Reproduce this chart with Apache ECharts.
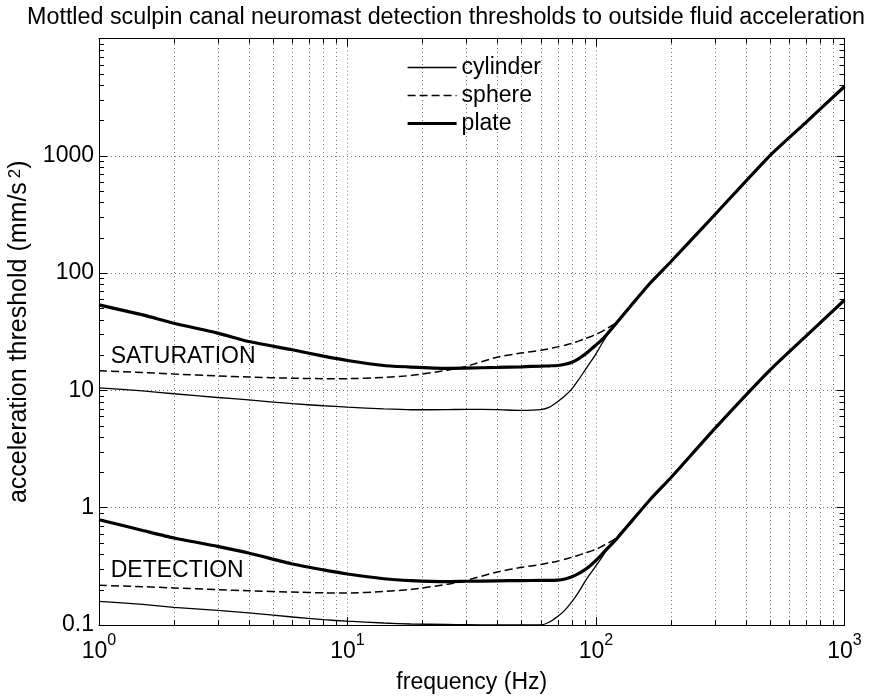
<!DOCTYPE html>
<html>
<head>
<meta charset="utf-8">
<script src="https://cdn.jsdelivr.net/npm/echarts@6/dist/echarts.min.js"></script>
<style>
  html, body { margin: 0; padding: 0; background: #fff; }
  #chart { width: 892px; height: 696px; }
</style>
</head>
<body>
<div id="chart"></div>
<script>
// Stimulus frequency (Hz)
const frequency = [1, 1.5, 2, 3, 4, 6, 8, 10, 14, 18, 25, 30, 40, 50, 60, 65, 70, 75, 80, 85, 90, 95, 100, 105, 110, 120, 140, 165, 200, 300, 500, 700, 1000];

// Saturation thresholds (mm/s^2)
const cylinderSaturation = [10.5, 9.9, 9.36, 8.7, 8.3, 7.7, 7.4, 7.2, 6.95, 6.84, 6.85, 6.9, 6.85, 6.75, 6.85, 7.2, 8.0, 9.0, 10.3, 12.3, 14.7, 17.4, 20.5, 24.5, 28.8, 36.5, 54.5, 82, 125, 313, 1000, 1930, 3900];
const sphereSaturation   = [14.7, 14.2, 13.8, 13.3, 13.0, 12.7, 12.6, 12.6, 12.9, 13.4, 14.8, 16.0, 19.2, 20.8, 22.0, 22.7, 23.5, 24.3, 25.2, 26.3, 27.5, 28.7, 30.0, 31.6, 33.5, 37.5, 54.8, 82, 125, 313, 1000, 1930, 3900];
const plateSaturation    = [53.6, 44, 37.4, 30.8, 26.1, 22.2, 19.6, 18.0, 16.3, 15.8, 15.4, 15.5, 15.7, 15.9, 16.1, 16.2, 16.3, 16.7, 17.4, 18.6, 20.2, 22.2, 24.4, 26.7, 29.7, 36.8, 54.5, 82, 125, 313, 1000, 1930, 3900];

// Detection thresholds (mm/s^2)
const cylinderDetection = [0.159, 0.150, 0.1416, 0.133, 0.127, 0.117, 0.111, 0.1077, 0.104, 0.102, 0.101, 0.1005, 0.1, 0.1, 0.1, 0.106, 0.118, 0.134, 0.158, 0.19, 0.232, 0.275, 0.32, 0.37, 0.43, 0.53, 0.78, 1.17, 1.8, 4.7, 14.8, 29, 59];
const sphereDetection   = [0.218, 0.212, 0.207, 0.200, 0.196, 0.191, 0.188, 0.1875, 0.193, 0.201, 0.222, 0.240, 0.283, 0.31, 0.328, 0.339, 0.35, 0.364, 0.378, 0.393, 0.41, 0.425, 0.44, 0.465, 0.49, 0.55, 0.79, 1.17, 1.8, 4.7, 14.8, 29, 59];
const plateDetection    = [0.79, 0.64, 0.552, 0.468, 0.411, 0.331, 0.295, 0.272, 0.248, 0.239, 0.234, 0.236, 0.238, 0.239, 0.240, 0.240, 0.241, 0.247, 0.258, 0.274, 0.295, 0.322, 0.355, 0.395, 0.44, 0.53, 0.78, 1.17, 1.8, 4.7, 14.8, 29, 59];

// Axis ranges and minor tick values
const freqRange = [1, 1000];
const accelRange = [0.1, 10000];
const freqMinorTicks = [2, 3, 4, 5, 6, 7, 8, 9, 20, 30, 40, 50, 60, 70, 80, 90, 200, 300, 400, 500, 600, 700, 800, 900];
const accelMinorTicks = [0.2, 0.3, 0.4, 0.5, 0.6, 0.7, 0.8, 0.9, 2, 3, 4, 5, 6, 7, 8, 9, 20, 30, 40, 50, 60, 70, 80, 90, 200, 300, 400, 500, 600, 700, 800, 900, 2000, 3000, 4000, 5000, 6000, 7000, 8000, 9000];

// Region annotations
const regionLabels = ['SATURATION', 'DETECTION'];
const regionLabelFreq = [1.115, 1.115];
const regionLabelAccel = [19.3, 0.29];

const FONT = '"Liberation Sans", Arial, Helvetica, sans-serif';
const pairs = (vals) => frequency.map((f, i) => [f, vals[i]]);

const styles = {
  cylinder: { color: '#000', width: 1.3, type: 'solid' },
  sphere: { color: '#000', width: 1.5, type: [8, 4] },
  plate: { color: '#000', width: 3.2, type: 'solid' }
};

function curve(name, vals) {
  return {
    name: name,
    type: 'line',
    data: pairs(vals),
    symbol: 'none',
    smooth: 0.2,
    color: '#000',
    itemStyle: { color: '#000' },
    lineStyle: styles[name],
    z: 5,
    silent: true
  };
}

const crisp = (v) => Math.round(v) + 0.5;

// Minor x grid lines plus bottom/top minor ticks
function renderFreqMinor(params, api) {
  const f = api.value(0);
  const b = api.coord([f, accelRange[0]]);
  const t = api.coord([f, accelRange[1]]);
  const x = crisp(b[0]);
  return {
    type: 'group',
    children: [
      { type: 'line', shape: { x1: x, y1: b[1], x2: x, y2: t[1] }, style: { stroke: '#777', lineWidth: 1, lineDash: [1, 3] } },
      { type: 'line', shape: { x1: x, y1: b[1], x2: x, y2: b[1] - 5 }, style: { stroke: '#000', lineWidth: 1 } },
      { type: 'line', shape: { x1: x, y1: t[1], x2: x, y2: t[1] + 5 }, style: { stroke: '#000', lineWidth: 1 } }
    ]
  };
}

// Minor y ticks on left and right
function renderAccelMinor(params, api) {
  const v = api.value(1);
  const l = api.coord([freqRange[0], v]);
  const r = api.coord([freqRange[1], v]);
  const y = crisp(l[1]);
  return {
    type: 'group',
    children: [
      { type: 'line', shape: { x1: l[0], y1: y, x2: l[0] + 5, y2: y }, style: { stroke: '#000', lineWidth: 1 } },
      { type: 'line', shape: { x1: r[0], y1: y, x2: r[0] - 5, y2: y }, style: { stroke: '#000', lineWidth: 1 } }
    ]
  };
}

const axisLine = { show: true, onZero: false, lineStyle: { color: '#000', width: 1 } };
const majorTick = { show: true, inside: true, length: 8, lineStyle: { color: '#000', width: 1 } };
const dottedGrid = { show: true, lineStyle: { color: '#777', width: 1, type: [1, 3] } };

const chart = echarts.init(document.getElementById('chart'));
chart.setOption({
  animation: false,
  backgroundColor: '#fff',
  color: ['#000'],
  textStyle: { fontFamily: FONT },
  title: {
    text: 'Mottled sculpin canal neuromast detection thresholds to outside fluid acceleration',
    left: 'center',
    top: 1,
    textStyle: { fontFamily: FONT, fontSize: 23.3, fontWeight: 'normal', color: '#000' }
  },
  legend: {
    data: [
      { name: 'cylinder', lineStyle: { width: 1.3 } },
      { name: 'sphere', lineStyle: { width: 1.5 } },
      { name: 'plate', lineStyle: { width: 3.2 } }
    ],
    orient: 'vertical',
    left: 406,
    top: 56,
    padding: 0,
    itemWidth: 49,
    itemHeight: 14,
    itemGap: 5,
    selectedMode: false,
    itemStyle: { opacity: 0 },
    lineStyle: { color: '#000' },
    textStyle: { fontFamily: FONT, fontSize: 23, color: '#000' }
  },
  grid: { left: 99, right: 47.5, top: 38.5, bottom: 71, containLabel: false, outerBoundsMode: 'none' },
  xAxis: [
    {
      type: 'log', logBase: 10, min: freqRange[0], max: freqRange[1], position: 'bottom',
      axisLine: axisLine, axisTick: majorTick, splitLine: dottedGrid, minorTick: { show: false },
      name: 'frequency (Hz)', nameLocation: 'middle', nameGap: 46,
      nameTextStyle: { fontFamily: FONT, fontSize: 23, color: '#000' },
      axisLabel: {
        margin: 8,
        color: '#000',
        formatter: (v) => '{b|10}{sup|' + Math.round(Math.log10(v)) + '}',
        rich: {
          b: { fontFamily: FONT, fontSize: 23, color: '#000', lineHeight: 30, verticalAlign: 'bottom' },
          sup: { fontFamily: FONT, fontSize: 16, color: '#000', lineHeight: 16, verticalAlign: 'top' }
        }
      }
    },
    {
      type: 'log', logBase: 10, min: freqRange[0], max: freqRange[1], position: 'top',
      axisLine: axisLine, axisTick: majorTick, splitLine: { show: false }, axisLabel: { show: false }
    }
  ],
  yAxis: [
    {
      type: 'log', logBase: 10, min: accelRange[0], max: accelRange[1], position: 'left',
      axisLine: axisLine, axisTick: majorTick, splitLine: dottedGrid,
      name: 'acceleration threshold (mm/s{sup|2})', nameLocation: 'middle', nameRotate: 90, nameGap: 49,
      nameTextStyle: {
        fontFamily: FONT, fontSize: 25, color: '#000',
        rich: {
          sup: { fontFamily: FONT, fontSize: 17, color: '#000', verticalAlign: 'top', padding: [0, 0, 0, 4] }
        }
      },
      axisLabel: {
        margin: 5,
        color: '#000',
        fontFamily: FONT,
        fontSize: 23,
        formatter: (v) => (v > 5000 ? '' : String(+v.toPrecision(3)))
      }
    },
    {
      type: 'log', logBase: 10, min: accelRange[0], max: accelRange[1], position: 'right',
      axisLine: axisLine, axisTick: majorTick, splitLine: { show: false }, axisLabel: { show: false }
    }
  ],
  series: [
    {
      type: 'custom', name: 'freqMinor', silent: true, z: 1, clip: false,
      renderItem: renderFreqMinor,
      data: freqMinorTicks.map((f) => [f, accelRange[0]])
    },
    {
      type: 'custom', name: 'accelMinor', silent: true, z: 1, clip: false,
      renderItem: renderAccelMinor,
      data: accelMinorTicks.map((v) => [freqRange[0], v])
    },
    curve('cylinder', cylinderSaturation),
    curve('sphere', sphereSaturation),
    curve('plate', plateSaturation),
    curve('cylinder', cylinderDetection),
    curve('sphere', sphereDetection),
    curve('plate', plateDetection),
    {
      type: 'scatter', name: 'regions', silent: true, symbolSize: 0, z: 6,
      itemStyle: { color: '#000', opacity: 1 },
      data: regionLabels.map((t, i) => ({ value: [regionLabelFreq[i], regionLabelAccel[i]], name: t })),
      label: {
        show: true, position: 'right', distance: 0, formatter: (p) => p.name,
        fontFamily: FONT, fontSize: 23, color: '#000', opacity: 1
      }
    }
  ]
});
</script>
</body>
</html>
